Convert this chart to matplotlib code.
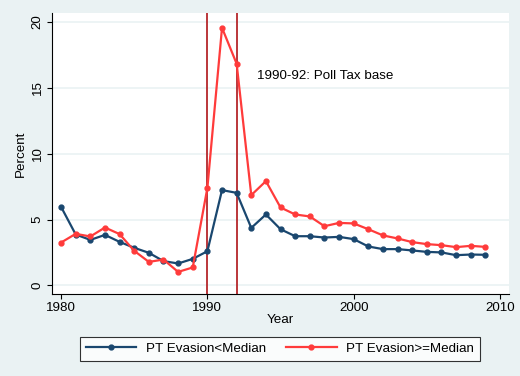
import matplotlib
matplotlib.use("Agg")
import matplotlib.pyplot as plt

years = list(range(1980, 2010))
below = [5.97, 3.87, 3.46, 3.84, 3.31, 2.86, 2.48, 1.85, 1.67, 2.02,
         2.60, 7.24, 7.03, 4.37, 5.39, 4.27, 3.74, 3.74, 3.64, 3.69,
         3.52, 2.96, 2.76, 2.76, 2.66, 2.55, 2.51, 2.30, 2.35, 2.33]
above = [3.26, 3.92, 3.72, 4.40, 3.90, 2.63, 1.79, 1.97, 1.03, 1.37,
         7.41, 19.56, 16.83, 6.86, 7.92, 5.92, 5.39, 5.24, 4.50, 4.75,
         4.71, 4.27, 3.80, 3.57, 3.29, 3.14, 3.06, 2.91, 3.01, 2.93]
vlines = [1990, 1992]
xticks = [1980, 1990, 2000, 2010]
yticks = [0, 5, 10, 15, 20]

plt.rcParams['font.family'] = ['Liberation Sans', 'DejaVu Sans']
bg = '#eaf2f3'
navy = '#1a476f'
red = '#ff3b3b'
fs = 9.6

fig = plt.figure(figsize=(5.2, 3.76), dpi=100, facecolor=bg)
ax = fig.add_axes([0.1, 0.219, 0.879, 0.746])
ax.set_facecolor('white')

for y in yticks:
    ax.axhline(y, color=bg, lw=1.2, zorder=0)
for v in vlines:
    ax.axvline(v, color='#b5262b', lw=1.3, zorder=1)

ax.plot(years, below, color=navy, lw=1.6, marker='o', ms=3.5,
        label='PT Evasion<Median', zorder=3)
ax.plot(years, above, color=red, lw=1.6, marker='o', ms=3.5,
        label='PT Evasion>=Median', zorder=3)

ax.text(1993.4, 15.9, '1990-92: Poll Tax base', fontsize=fs, va='center')

ax.set_xlim(1979.38, 2010.62)
ax.set_ylim(-0.62, 20.67)
ax.set_xticks(xticks)
ax.set_yticks(yticks)
ax.tick_params(labelsize=fs, length=3.6, width=0.8, direction='out', pad=2.5)
plt.setp(ax.get_yticklabels(), rotation=90, va='center')
ax.set_xlabel('Year', fontsize=fs, labelpad=0)
ax.set_ylabel('Percent', fontsize=fs, labelpad=3)
for s in ['top', 'right']:
    ax.spines[s].set_visible(False)
for s in ['left', 'bottom']:
    ax.spines[s].set_linewidth(0.8)

leg = fig.legend(loc='center', bbox_to_anchor=(0.538, 0.072), ncol=2,
                 fontsize=fs, frameon=True, fancybox=False,
                 edgecolor='black', handlelength=3.8, handletextpad=0.7,
                 columnspacing=1.5, borderpad=0.45, borderaxespad=0)
leg.get_frame().set_linewidth(0.8)

fig.savefig('out.png', dpi=100, facecolor=bg)
